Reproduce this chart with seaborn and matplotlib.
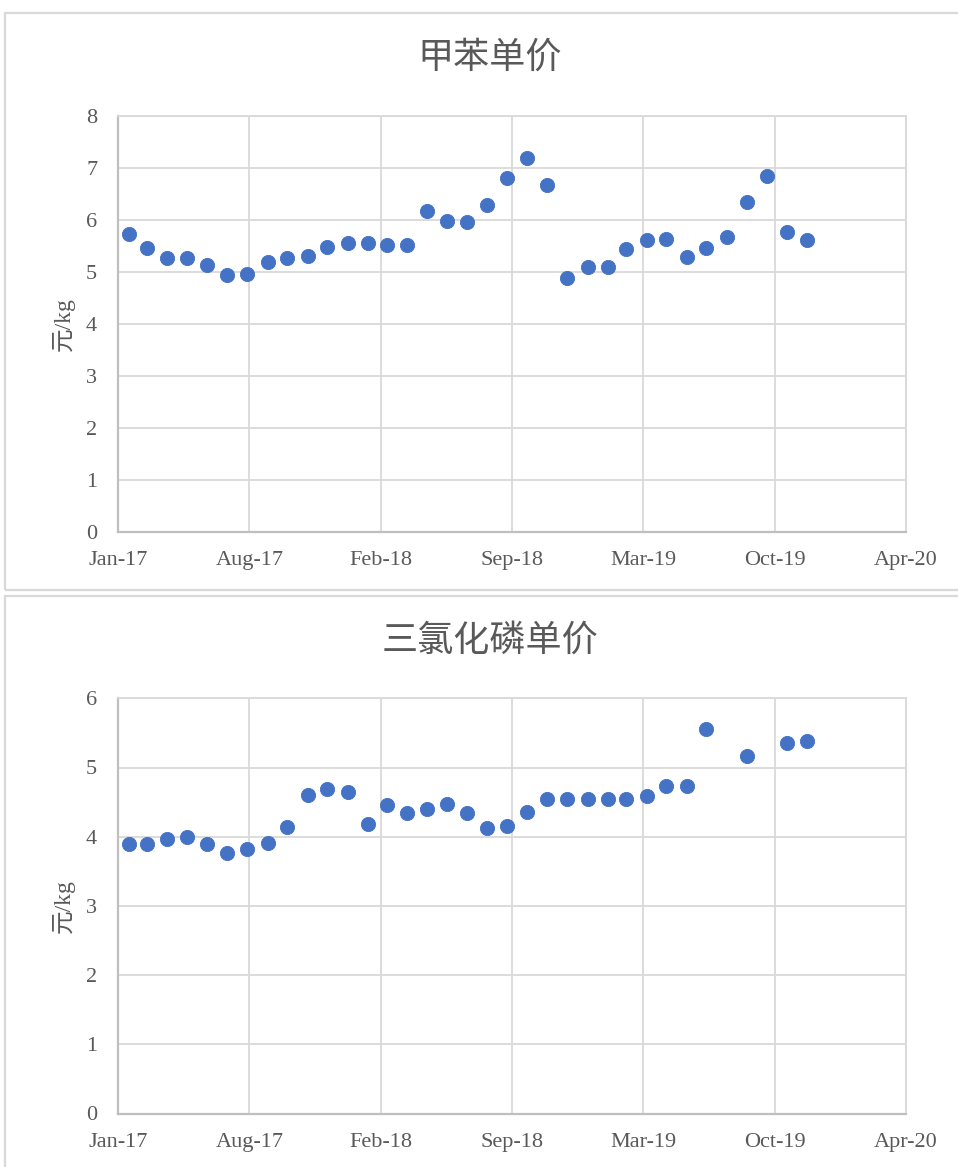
import numpy as np
import pandas as pd
import matplotlib
matplotlib.use("Agg")
import matplotlib.pyplot as plt
import matplotlib.dates as mdates
from matplotlib.patches import Rectangle
import seaborn as sns

# ---------------- data ----------------
months = pd.date_range("2017-01-01", periods=35, freq="MS") + pd.offsets.MonthEnd(0)

toluene_price = [5.74, 5.47, 5.26, 5.26, 5.13, 4.94, 4.96, 5.19, 5.27, 5.31,
                 5.49, 5.56, 5.56, 5.51, 5.51, 6.18, 5.98, 5.96, 6.28, 6.81,
                 7.19, 6.67, 4.89, 5.10, 5.10, 5.44, 5.62, 5.63, 5.29, 5.47,
                 5.68, 6.35, 6.85, 5.76, 5.62]

pcl3_price = [3.90, 3.90, 3.97, 3.99, 3.90, 3.77, 3.82, 3.91, 4.14, 4.60,
              4.69, 4.64, 4.18, 4.46, 4.34, 4.40, 4.47, 4.34, 4.12, 4.16,
              4.35, 4.545, 4.545, 4.545, 4.545, 4.545, 4.59, 4.73, 4.73, 5.55,
              np.nan, 5.16, np.nan, 5.35, 5.38]

titles = ["甲苯单价", "三氯化磷单价"]
ylabel = "元/kg"
y_limits = [(0, 8), (0, 6)]
x_tick_start = pd.Timestamp("2017-01-15")
x_tick_step_days = 200
n_x_ticks = 7

# ---------------- style ----------------
sns.set_style("white")
plt.rcParams["font.family"] = ["Liberation Serif", "Noto Sans CJK SC", "DejaVu Sans"]

TEXT = "#595959"
GRID = "#d9d9d9"
AXIS = "#bfbfbf"
BLUE = "#4472C4"

W, H = 958, 1167
fig = plt.figure(figsize=(W / 100, H / 100), dpi=100)

def fx(px):
    return px / W

def fy(py):
    return 1 - py / H

# frames
fig.patches.append(Rectangle((fx(5), fy(590)), fx(970) - fx(5), fy(13) - fy(590),
                             transform=fig.transFigure, fill=False,
                             edgecolor=GRID, linewidth=1.6))
fig.patches.append(Rectangle((fx(5), fy(1180)), fx(970) - fx(5), fy(596) - fy(1180),
                             transform=fig.transFigure, fill=False,
                             edgecolor=GRID, linewidth=1.6))

# axes geometry (pixels)
left_px, right_px = 118, 906
boxes = [(116, 532), (698.3, 1113.5)]
title_y = [58, 641]

series = [toluene_price, pcl3_price]

ticks = [x_tick_start + pd.Timedelta(days=x_tick_step_days * k) for k in range(n_x_ticks)]

for i, (vals, (top_px, bot_px)) in enumerate(zip(series, boxes)):
    ax = fig.add_axes([fx(left_px), fy(bot_px), fx(right_px) - fx(left_px),
                       fy(top_px) - fy(bot_px)])
    df = pd.DataFrame({"date": months, "price": vals})
    sns.scatterplot(data=df, x="date", y="price", ax=ax, color=BLUE, s=105,
                    edgecolor=BLUE, linewidth=0.6, zorder=3, legend=False)
    ax.set_xlim(ticks[0], ticks[-1])
    ax.set_ylim(*y_limits[i])
    ax.set_xticks(ticks)
    ax.xaxis.set_major_formatter(mdates.DateFormatter("%b-%y"))
    ax.set_yticks(np.arange(y_limits[i][0], y_limits[i][1] + 1, 1))
    ax.grid(True, color=GRID, linewidth=1.3)
    ax.set_axisbelow(True)
    for s in ["top", "right"]:
        ax.spines[s].set_color(GRID)
        ax.spines[s].set_linewidth(1.3)
    for s in ["left", "bottom"]:
        ax.spines[s].set_color(AXIS)
        ax.spines[s].set_linewidth(1.6)
    ax.tick_params(axis="both", length=0, labelsize=16, colors=TEXT)
    ax.tick_params(axis="y", pad=15)
    ax.tick_params(axis="x", pad=14)
    ax.set_xlabel("")
    ax.set_ylabel(ylabel, fontsize=17, color=TEXT)
    ax.yaxis.set_label_coords(-0.055, 0.5)
    fig.text(fx(490), fy(title_y[i]), titles[i], ha="center", va="center",
             fontsize=26, color=TEXT, family=["Noto Sans CJK SC"], fontweight="light")

fig.savefig("out.png", dpi=100)
